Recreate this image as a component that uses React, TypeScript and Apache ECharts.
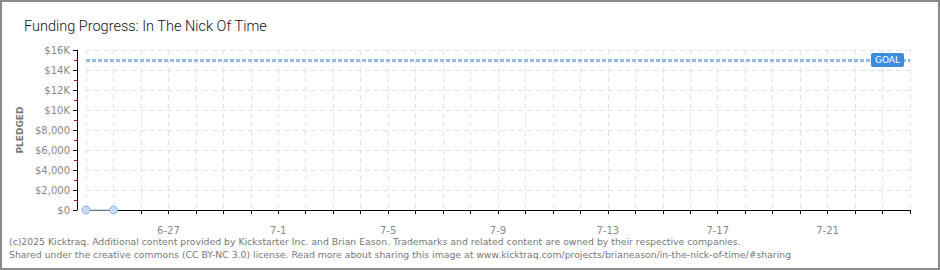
import React, { useEffect, useRef } from "react";
import * as echarts from "echarts";

const dates = [
  "6-24", "6-25", "6-26", "6-27", "6-28", "6-29", "6-30",
  "7-1", "7-2", "7-3", "7-4", "7-5", "7-6", "7-7", "7-8", "7-9", "7-10",
  "7-11", "7-12", "7-13", "7-14", "7-15", "7-16", "7-17", "7-18", "7-19", "7-20",
  "7-21", "7-22", "7-23", "7-24",
];
const pledged = [0, 0];
const goal = 15000;
const titleText = "Funding Progress: In The Nick Of Time";
const footer1 =
  "(c)2025 Kicktraq. Additional content provided by Kickstarter Inc. and Brian Eason. Trademarks and related content are owned by their respective companies.";
const footer2 =
  "Shared under the creative commons (CC BY-NC 3.0) license. Read more about sharing this image at www.kicktraq.com/projects/brianeason/in-the-nick-of-time/#sharing";

const fmtY = (v: number) =>
  v >= 10000 ? "$" + v / 1000 + "K" : "$" + v.toLocaleString("en-US");

export default function App() {
  const ref = useRef<HTMLDivElement>(null);
  useEffect(() => {
    if (!ref.current) return;
    const chart = echarts.init(ref.current, null, { renderer: "svg" });
    chart.setOption({
      animation: false,
      backgroundColor: "#ffffff",
      title: {
        text: titleText,
        left: 19,
        top: 14,
        textStyle: { fontFamily: "Roboto", fontSize: 14.5, fontWeight: 300, color: "#111" },
      },
      grid: { left: 86, right: 30, top: 50, bottom: 60 },
      xAxis: {
        type: "category",
        data: dates,
        boundaryGap: false,
        offset: 10,
        axisLine: { lineStyle: { color: "#000", width: 1 } },
        axisTick: { interval: 0, length: 4, lineStyle: { color: "#000" } },
        axisLabel: {
          interval: (i: number) => i % 4 === 3,
          color: "#888",
          fontFamily: "DejaVu Sans",
          fontSize: 10,
          margin: 5,
        },
        splitLine: {
          show: true,
          interval: 0,
          lineStyle: { color: "#e3e3e3", type: [5, 4] },
        },
      },
      yAxis: {
        type: "value",
        min: 0,
        max: 16000,
        interval: 2000,
        offset: 9,
        name: "PLEDGED",
        nameLocation: "middle",
        nameGap: 53,
        nameTextStyle: { color: "#777", fontFamily: "DejaVu Sans", fontSize: 9, fontWeight: "bold" },
        axisLine: { show: true, lineStyle: { color: "#000", width: 1 } },
        axisTick: { show: true, length: 4, lineStyle: { color: "#000" } },
        minorTick: { show: true, splitNumber: 2, length: 3, lineStyle: { color: "#e00000" } },
        axisLabel: {
          formatter: fmtY,
          color: "#888",
          fontFamily: "DejaVu Sans",
          fontSize: 10,
          margin: 7,
        },
        splitLine: { show: true, lineStyle: { color: "#e3e3e3", type: [5, 4] } },
      },
      series: [
        {
          type: "line",
          data: pledged,
          symbol: "circle",
          symbolSize: 8,
          itemStyle: { color: "#c6ddf6", borderColor: "#8cb0d8", borderWidth: 1 },
          lineStyle: { color: "#b8d4f0", width: 1.5 },
          markLine: {
            silent: true,
            symbol: "none",
            data: [{ yAxis: goal }],
            lineStyle: { color: "#96bce6", width: 3, type: [4, 2] },
            label: {
              position: "insideEnd",
              formatter: "GOAL",
              backgroundColor: "#3d8be0",
              color: "#fff",
              fontFamily: "DejaVu Sans",
              fontSize: 9,
              padding: [3, 4, 2, 4],
              borderRadius: 2,
              distance: 6,
            },
          },
        },
      ],
      graphic: [
        {
          type: "rect",
          shape: { x: 1, y: 1, width: 938, height: 268 },
          style: { fill: "none", stroke: "#8a8a8a", lineWidth: 2 },
          silent: true,
        },
        {
          type: "text",
          left: 9,
          top: 237,
          style: { text: footer1, fill: "#777", font: "9.3px 'DejaVu Sans'" },
        },
        {
          type: "text",
          left: 9,
          top: 250,
          style: { text: footer2, fill: "#777", font: "9.3px 'DejaVu Sans'" },
        },
      ],
    });
    return () => chart.dispose();
  }, []);
  return (
    <div style={{ position: "fixed", left: 0, top: 0, width: 940, height: 270 }}>
      <div ref={ref} style={{ width: 940, height: 270 }} />
    </div>
  );
}
